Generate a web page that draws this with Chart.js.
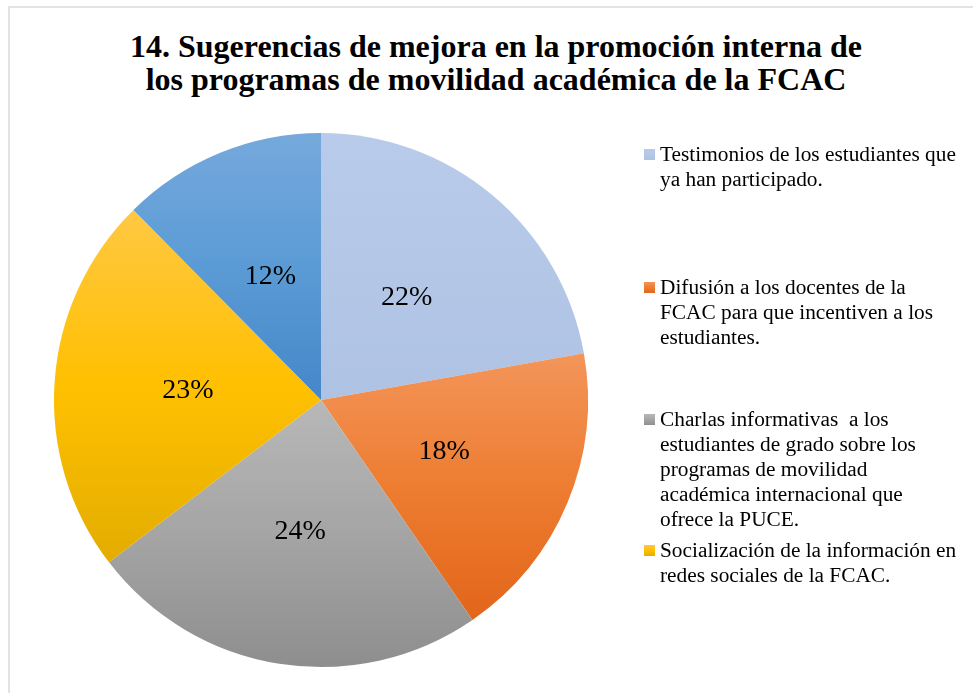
<!DOCTYPE html>
<html>
<head>
<meta charset="utf-8">
<title>Sugerencias de mejora</title>
<script src="https://cdn.jsdelivr.net/npm/chart.js"></script>
<style>
    body { margin: 0; background: #fff; width: 973px; height: 693px; overflow: hidden; position: relative; color: #000; }
    #frame { position: absolute; left: 8px; top: 6px; width: 990px; height: 700px; border: 2px solid #e3e3e3; }
    #title { position: absolute; left: 0; top: 30px; width: 992px; text-align: center;
             font-family: 'Liberation Serif'; font-weight: bold; font-size: 32px; line-height: 33px; }
    #pie { position: absolute; left: 0; top: 0; }
    .item { position: absolute; left: 644px; width: 298px; padding-left: 16px;
            font-family: 'Liberation Serif'; font-size: 21.33px; line-height: 25px; white-space: pre-wrap; }
    .box { position: absolute; left: 0; top: 7px; width: 11px; height: 11px; }
</style>
</head>
<body>
<div id="frame"></div>
<div id="title">14. Sugerencias de mejora en la promoción interna de<br>los programas de movilidad académica de la FCAC</div>
<canvas id="pie" width="973" height="693"></canvas>
<div id="legend"></div>
<script>
    // categories (the fifth one is not shown in the legend of the original)
    const categories = [
        'Testimonios de los estudiantes que ya han participado.',
        'Difusión a los docentes de la FCAC para que incentiven a los estudiantes.',
        'Charlas informativas  a los estudiantes de grado sobre los programas de movilidad académica internacional que ofrece la PUCE.',
        'Socialización de la información en redes sociales de la FCAC.',
        ''
    ];
    const values = [22.2, 18.2, 24.2, 23.0, 12.4];

    // gradient stops per slice: top, middle, bottom
    const palette = [
        ['#b9cbea', '#b4c7e7', '#aec2e4'],
        ['#f3955a', '#ed7d31', '#e2651a'],
        ['#b8b8b8', '#a5a5a5', '#8e8e8e'],
        ['#ffc843', '#ffc000', '#e3ad00'],
        ['#75a9dc', '#5b9bd5', '#4487c9']
    ];
    const legendTops = [142, 275, 407, 538];

    const total = values.reduce((a, b) => a + b, 0);

    function sliceYRange(i, cy, r) {
        let acc = 0;
        for (let j = 0; j < i; j++) acc += values[j];
        const s = -Math.PI / 2 + acc / total * 2 * Math.PI;
        const e = s + values[i] / total * 2 * Math.PI;
        const ys = [cy, cy + r * Math.sin(s), cy + r * Math.sin(e)];
        [-Math.PI / 2, Math.PI / 2, 3 * Math.PI / 2].forEach(k => {
            if (k > s && k < e) ys.push(cy + r * Math.sin(k));
        });
        return [Math.min(...ys), Math.max(...ys)];
    }

    function sliceFill(c) {
        const stops = palette[c.dataIndex];
        const area = c.chart.chartArea;
        if (!area || c.type !== 'data') return stops[1];
        const cy = (area.top + area.bottom) / 2;
        const r = Math.min(area.right - area.left, area.bottom - area.top) / 2;
        const [y0, y1] = sliceYRange(c.dataIndex, cy, r);
        const g = c.chart.ctx.createLinearGradient(0, y0, 0, y1);
        g.addColorStop(0, stops[0]);
        g.addColorStop(0.5, stops[1]);
        g.addColorStop(1, stops[2]);
        return g;
    }

    const pctLabels = {
        id: 'pctLabels',
        afterDatasetsDraw(chart) {
            const ctx = chart.ctx;
            ctx.save();
            ctx.font = '28px "Liberation Serif"';
            ctx.fillStyle = '#000';
            ctx.textAlign = 'center';
            ctx.textBaseline = 'middle';
            chart.getDatasetMeta(0).data.forEach((arc, i) => {
                const p = arc.getProps(['x', 'y', 'startAngle', 'endAngle', 'outerRadius'], true);
                const mid = (p.startAngle + p.endAngle) / 2;
                const rr = p.outerRadius * 0.5;
                ctx.fillText(Math.round(values[i] / total * 100) + '%',
                    p.x + Math.cos(mid) * rr, p.y + Math.sin(mid) * rr);
            });
            ctx.restore();
        }
    };

    new Chart(document.getElementById('pie'), {
        type: 'pie',
        data: {
            labels: categories,
            datasets: [{ data: values, backgroundColor: sliceFill, borderWidth: 0 }]
        },
        options: {
            responsive: false,
            animation: false,
            layout: { padding: { left: 54, top: 133, right: 385, bottom: 26 } },
            plugins: { legend: { display: false }, tooltip: { enabled: false } }
        },
        plugins: [pctLabels]
    });

    // legend on the right
    const legend = document.getElementById('legend');
    categories.forEach((name, i) => {
        if (!name) return;
        const item = document.createElement('div');
        item.className = 'item';
        item.style.top = legendTops[i] + 'px';
        const box = document.createElement('span');
        box.className = 'box';
        box.style.background = 'linear-gradient(to bottom, ' + palette[i].join(', ') + ')';
        item.appendChild(box);
        item.appendChild(document.createTextNode(name));
        legend.appendChild(item);
    });
</script>
</body>
</html>
